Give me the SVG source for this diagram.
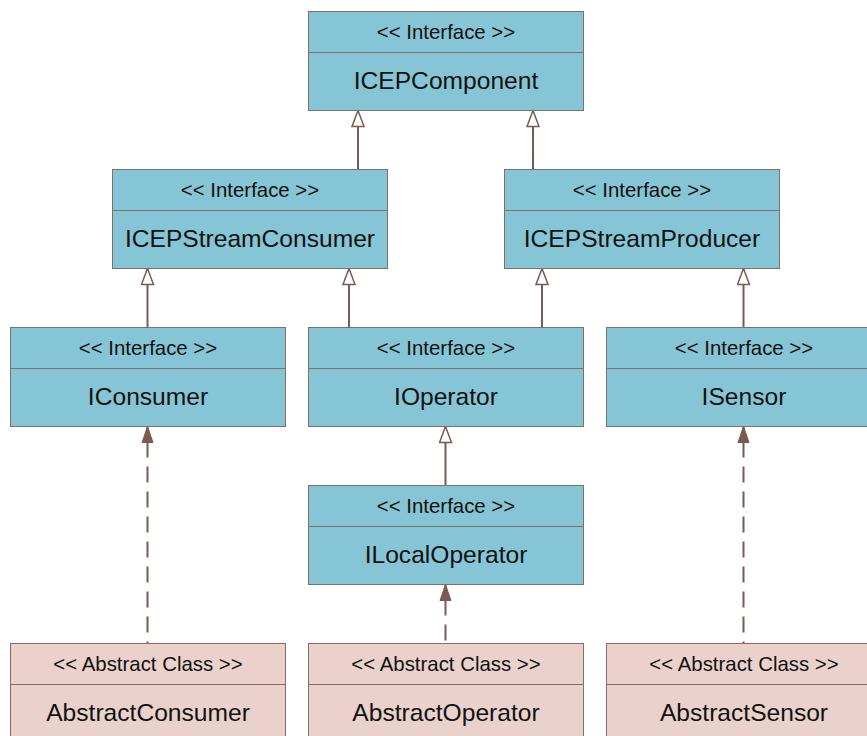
<svg xmlns="http://www.w3.org/2000/svg" width="867" height="736" viewBox="0 0 867 736">
  <style>
    .iface rect, .iface line { fill: #86c5d5; stroke: #7e706d; stroke-width: 1; }
    .abs rect, .abs line { fill: #ebd1cc; stroke: #8a6a62; stroke-width: 1; }
    text { font-family: "Liberation Sans", Arial, sans-serif; fill: #111; text-anchor: middle; }
    .stereo { font-size: 20.4px; }
    .name { font-size: 24.6px; }
    .gen { stroke: #7a5a52; stroke-width: 2; fill: none; marker-start: url(#hollow); }
    .real { stroke: #7a5a52; stroke-width: 2; fill: none; stroke-dasharray: 16 9; stroke-dashoffset: 10; marker-start: url(#filled); }
  </style>
  <defs>
    <!-- generalisation: hollow triangle, tip at the path start -->
    <marker id="hollow" viewBox="0 0 20 14" refX="1" refY="7" markerWidth="20" markerHeight="14" markerUnits="userSpaceOnUse" orient="auto">
      <path d="M1,7 L17,1 L17,13 Z" fill="#ffffff" stroke="#7a5a52" stroke-width="1.5"/>
    </marker>
    <!-- realisation: filled triangle, tip at the path start -->
    <marker id="filled" viewBox="0 0 20 14" refX="1" refY="7" markerWidth="20" markerHeight="14" markerUnits="userSpaceOnUse" orient="auto">
      <path d="M1,7 L17,1.5 L17,12.5 Z" fill="#7a5a52" stroke="#7a5a52" stroke-width="1"/>
    </marker>
  </defs>

  <rect x="0" y="0" width="867" height="736" fill="#ffffff"/>

  <g id="connectors">
    <path class="gen" d="M358,110.5 V169.5"/>
    <path class="gen" d="M533,110.5 V169.5"/>
    <path class="gen" d="M147.5,268.5 V327.5"/>
    <path class="gen" d="M349,268.5 V327.5"/>
    <path class="gen" d="M542,268.5 V327.5"/>
    <path class="gen" d="M743.5,268.5 V327.5"/>
    <path class="gen" d="M445.5,426.5 V485.5"/>
    <path class="real" d="M147.5,426.5 V643.5"/>
    <path class="real" d="M445.5,584.5 V643.5"/>
    <path class="real" d="M743.5,426.5 V643.5"/>
  </g>

  <g id="ICEPComponent" class="iface">
    <rect x="308.5" y="11.5" width="275" height="99"/>
    <line x1="308.5" y1="52.5" x2="583.5" y2="52.5"/>
    <text class="stereo" x="446" y="39">&lt;&lt; Interface &gt;&gt;</text>
    <text class="name" x="446" y="88.5">ICEPComponent</text>
  </g>

  <g id="ICEPStreamConsumer" class="iface">
    <rect x="112.5" y="169.5" width="275" height="99"/>
    <line x1="112.5" y1="210.5" x2="387.5" y2="210.5"/>
    <text class="stereo" x="250" y="197">&lt;&lt; Interface &gt;&gt;</text>
    <text class="name" x="250" y="246.5">ICEPStreamConsumer</text>
  </g>

  <g id="ICEPStreamProducer" class="iface">
    <rect x="504.5" y="169.5" width="275" height="99"/>
    <line x1="504.5" y1="210.5" x2="779.5" y2="210.5"/>
    <text class="stereo" x="642" y="197">&lt;&lt; Interface &gt;&gt;</text>
    <text class="name" x="642" y="246.5">ICEPStreamProducer</text>
  </g>

  <g id="IConsumer" class="iface">
    <rect x="10.5" y="327.5" width="275" height="99"/>
    <line x1="10.5" y1="368.5" x2="285.5" y2="368.5"/>
    <text class="stereo" x="148" y="355">&lt;&lt; Interface &gt;&gt;</text>
    <text class="name" x="148" y="404.5">IConsumer</text>
  </g>

  <g id="IOperator" class="iface">
    <rect x="308.5" y="327.5" width="275" height="99"/>
    <line x1="308.5" y1="368.5" x2="583.5" y2="368.5"/>
    <text class="stereo" x="446" y="355">&lt;&lt; Interface &gt;&gt;</text>
    <text class="name" x="446" y="404.5">IOperator</text>
  </g>

  <g id="ISensor" class="iface">
    <rect x="606.5" y="327.5" width="275" height="99"/>
    <line x1="606.5" y1="368.5" x2="881.5" y2="368.5"/>
    <text class="stereo" x="744" y="355">&lt;&lt; Interface &gt;&gt;</text>
    <text class="name" x="744" y="404.5">ISensor</text>
  </g>

  <g id="ILocalOperator" class="iface">
    <rect x="308.5" y="485.5" width="275" height="99"/>
    <line x1="308.5" y1="526.5" x2="583.5" y2="526.5"/>
    <text class="stereo" x="446" y="513">&lt;&lt; Interface &gt;&gt;</text>
    <text class="name" x="446" y="562.5">ILocalOperator</text>
  </g>

  <g id="AbstractConsumer" class="abs">
    <rect x="10.5" y="643.5" width="275" height="99"/>
    <line x1="10.5" y1="684.5" x2="285.5" y2="684.5"/>
    <text class="stereo" x="148" y="671">&lt;&lt; Abstract Class &gt;&gt;</text>
    <text class="name" x="148" y="720.5">AbstractConsumer</text>
  </g>

  <g id="AbstractOperator" class="abs">
    <rect x="308.5" y="643.5" width="275" height="99"/>
    <line x1="308.5" y1="684.5" x2="583.5" y2="684.5"/>
    <text class="stereo" x="446" y="671">&lt;&lt; Abstract Class &gt;&gt;</text>
    <text class="name" x="446" y="720.5">AbstractOperator</text>
  </g>

  <g id="AbstractSensor" class="abs">
    <rect x="606.5" y="643.5" width="275" height="99"/>
    <line x1="606.5" y1="684.5" x2="881.5" y2="684.5"/>
    <text class="stereo" x="744" y="671">&lt;&lt; Abstract Class &gt;&gt;</text>
    <text class="name" x="744" y="720.5">AbstractSensor</text>
  </g>
</svg>
